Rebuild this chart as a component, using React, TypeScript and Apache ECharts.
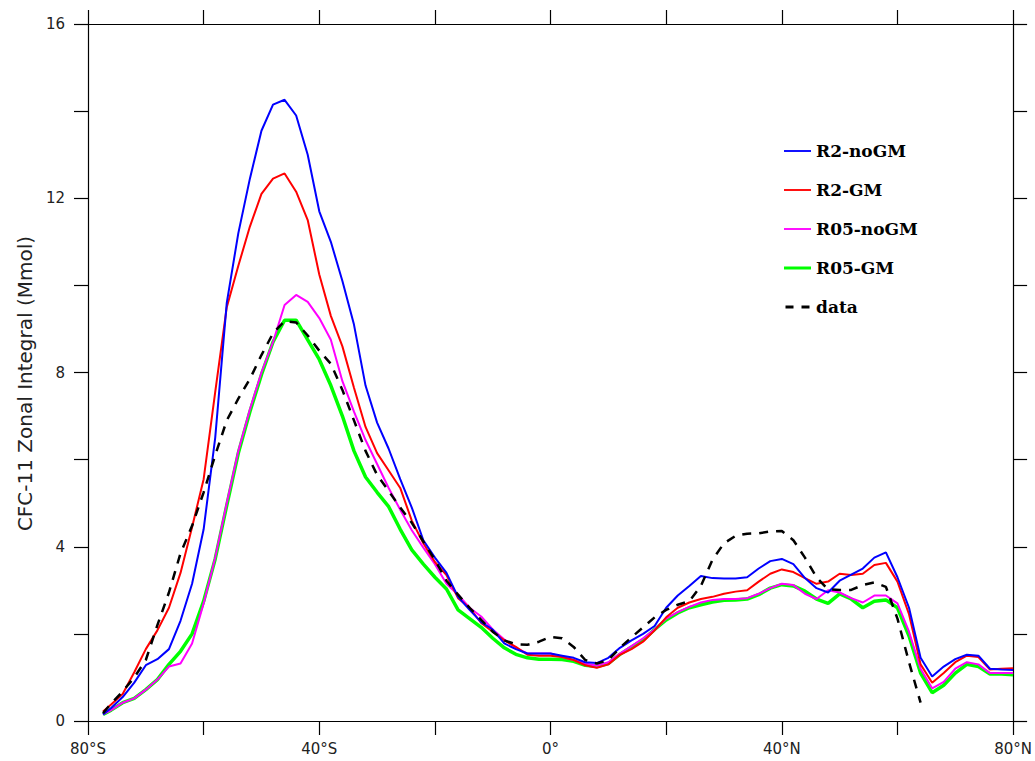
import React, { useEffect, useRef } from "react";
import * as echarts from "echarts";

// Latitudes (negative = south)
const lats = [-77.4, -76, -74, -72, -70, -68, -66, -64, -62, -60, -58, -56, -54, -52, -50, -48, -46, -44, -42, -40, -38, -36, -34, -32, -30, -28, -26, -24, -22, -20, -18, -16, -14, -12, -10, -8, -6, -4, -2, 0, 2, 4, 6, 8, 10, 12, 14, 16, 18, 20, 22, 24, 26, 28, 30, 32, 34, 36, 38, 40, 42, 44, 46, 48, 50, 52, 54, 56, 58, 60, 62, 64, 66, 68, 70, 72, 74, 76, 78, 80];

const r2NoGM = [0.15, 0.3, 0.55, 0.88, 1.28, 1.42, 1.65, 2.3, 3.15, 4.4, 6.5, 9.6, 11.2, 12.45, 13.55, 14.15, 14.26, 13.9, 13.0, 11.7, 11.0, 10.1, 9.1, 7.7, 6.85, 6.25, 5.55, 4.9, 4.15, 3.75, 3.4, 2.85, 2.55, 2.27, 2.1, 1.78, 1.65, 1.55, 1.55, 1.55, 1.5, 1.45, 1.35, 1.33, 1.45, 1.68, 1.85, 2.0, 2.18, 2.6, 2.88, 3.1, 3.33, 3.28, 3.27, 3.27, 3.3, 3.5, 3.67, 3.72, 3.6, 3.28, 3.05, 2.95, 3.22, 3.36, 3.5, 3.75, 3.87, 3.3, 2.6, 1.45, 1.02, 1.25, 1.42, 1.52, 1.5, 1.2, 1.18, 1.17];

const r2GM = [0.22, 0.38, 0.62, 1.12, 1.65, 2.08, 2.6, 3.4, 4.45, 5.55, 7.55, 9.5, 10.45, 11.35, 12.1, 12.45, 12.57, 12.15, 11.5, 10.25, 9.3, 8.6, 7.65, 6.75, 6.15, 5.75, 5.35, 4.6, 4.08, 3.65, 3.35, 2.82, 2.6, 2.25, 2.05, 1.85, 1.7, 1.52, 1.5, 1.5, 1.47, 1.4, 1.28, 1.22, 1.3, 1.52, 1.65, 1.82, 2.08, 2.38, 2.6, 2.72, 2.8, 2.85, 2.92, 2.97, 3.0, 3.2, 3.38, 3.48, 3.42, 3.28, 3.15, 3.2, 3.38, 3.35, 3.38, 3.58, 3.63, 3.2, 2.45, 1.3, 0.88, 1.1, 1.35, 1.5, 1.47, 1.18, 1.2, 1.21];

const r05NoGM = [0.15, 0.25, 0.42, 0.52, 0.72, 0.95, 1.25, 1.32, 1.78, 2.7, 3.75, 5.0, 6.2, 7.15, 8.0, 8.7, 9.55, 9.78, 9.62, 9.25, 8.75, 7.8, 7.1, 6.45, 5.9, 5.35, 4.85, 4.38, 3.98, 3.6, 3.15, 2.9, 2.6, 2.4, 2.1, 1.87, 1.68, 1.55, 1.55, 1.55, 1.47, 1.4, 1.32, 1.27, 1.35, 1.55, 1.72, 1.9, 2.1, 2.35, 2.5, 2.62, 2.72, 2.78, 2.8, 2.8, 2.82, 2.92, 3.05, 3.15, 3.12, 2.92, 2.8, 3.0, 2.95, 2.82, 2.72, 2.88, 2.88, 2.7, 2.05, 1.2, 0.75, 0.9, 1.2, 1.35, 1.3, 1.1, 1.1, 1.1];

const r05GM = [0.15, 0.25, 0.42, 0.52, 0.72, 0.95, 1.3, 1.6, 2.0, 2.75, 3.72, 4.95, 6.15, 7.1, 7.95, 8.7, 9.2, 9.2, 8.75, 8.3, 7.7, 7.0, 6.2, 5.6, 5.25, 4.92, 4.4, 3.93, 3.6, 3.3, 3.03, 2.55, 2.35, 2.15, 1.9, 1.68, 1.53, 1.45, 1.42, 1.42, 1.41, 1.37, 1.28, 1.25, 1.32, 1.53, 1.7, 1.86, 2.1, 2.32, 2.48, 2.6, 2.67, 2.73, 2.77, 2.78, 2.8, 2.9, 3.05, 3.13, 3.1, 2.98, 2.8, 2.7, 2.92, 2.8, 2.6, 2.75, 2.78, 2.6, 1.95, 1.1, 0.65, 0.82, 1.1, 1.3, 1.25, 1.08, 1.08, 1.06];

const obsData = [0.18, 0.4, 0.68, 1.0, 1.4, 2.2, 2.95, 3.85, 4.48, 5.25, 6.1, 6.9, 7.4, 7.85, 8.4, 8.9, 9.18, 9.15, 8.85, 8.5, 8.2, 7.6, 6.9, 6.2, 5.65, 5.28, 4.9, 4.55, 4.12, 3.7, 3.22, 2.9, 2.6, 2.32, 2.05, 1.85, 1.76, 1.75, 1.82, 1.93, 1.9, 1.7, 1.4, 1.32, 1.4, 1.68, 1.92, 2.15, 2.38, 2.55, 2.67, 2.75, 3.1, 3.7, 4.08, 4.25, 4.3, 4.31, 4.35, 4.36, 4.15, 3.75, 3.3, 3.02, 3.01, 3.01, 3.12, 3.18, 3.08, 2.35, 1.35, 0.42, null, null, null, null, null, null, null, null];

const seriesNames = ["R2-noGM", "R2-GM", "R05-noGM", "R05-GM", "data"];
const seriesColors = ["#0000ff", "#ff0000", "#ff00ff", "#00ff00", "#000000"];

const yTitle = "CFC-11 Zonal Integral (Mmol)";

function latLabel(v: number): string {
  if (v % 40 !== 0) return "";
  if (v === 0) return "0°";
  return v < 0 ? `${-v}°S` : `${v}°N`;
}

export default function App() {
  const ref = useRef<HTMLDivElement>(null);
  useEffect(() => {
    if (!ref.current) return;
    const chart = echarts.init(ref.current, null, { renderer: "svg" });
    const all = [r2NoGM, r2GM, r05NoGM, r05GM, obsData];
    const widths = [2, 2, 2, 3.5, 2.5];
    const series = all.map((vals, i) => ({
      name: seriesNames[i],
      type: "line",
      data: lats.map((la, j) => [la, vals[j]]),
      showSymbol: false,
      symbol: "none",
      connectNulls: false,
      z: i === 4 ? 10 : 5 - i,
      lineStyle: {
        color: seriesColors[i],
        width: widths[i],
        type: i === 4 ? [9, 8] : "solid",
      },
      itemStyle: { color: seriesColors[i] },
    }));
    const legendData = seriesNames.map((name, i) => ({
      name,
      icon:
        i === 4
          ? "path://M0,0h8v3h-8z M16,0h8v3h-8z"
          : i === 3
          ? "rect"
          : "path://M0,0.6h26v1.8h-26z",
    }));
    const axisCommon = {
      axisLine: { show: true, onZero: false, lineStyle: { color: "#000", width: 1.2 } },
      axisTick: { show: true, length: 14, lineStyle: { color: "#000", width: 1.2 } },
      splitLine: { show: false },
    };
    chart.setOption({
      animation: false,
      backgroundColor: "#fff",
      grid: { left: 88, right: 18, top: 24, bottom: 40, containLabel: false },
      legend: {
        orient: "vertical",
        left: 779,
        top: 136,
        itemWidth: 27,
        itemHeight: 3,
        itemGap: 19,
        data: legendData,
        textStyle: {
          fontFamily: "DejaVu Serif",
          fontWeight: "bold",
          fontSize: 17,
          lineHeight: 20,
          color: "#000",
        },
      },
      xAxis: [
        {
          type: "value",
          min: -80,
          max: 80,
          interval: 20,
          position: "bottom",
          ...axisCommon,
          axisLabel: {
            formatter: latLabel,
            margin: 20,
            fontFamily: "DejaVu Sans",
            fontSize: 15,
            color: "#222",
            showMinLabel: true,
            showMaxLabel: true,
          },
        },
        {
          type: "value",
          min: -80,
          max: 80,
          interval: 20,
          position: "top",
          ...axisCommon,
          axisLabel: { show: false },
        },
      ],
      yAxis: [
        {
          type: "value",
          min: 0,
          max: 16,
          interval: 2,
          position: "left",
          ...axisCommon,
          axisLabel: {
            formatter: (v: number) => (v % 4 === 0 ? String(v) : ""),
            margin: 23,
            fontFamily: "DejaVu Sans",
            fontSize: 15,
            color: "#222",
          },
          name: yTitle,
          nameLocation: "middle",
          nameGap: 45,
          nameRotate: 90,
          nameTextStyle: {
            fontFamily: "DejaVu Sans",
            fontSize: 20,
            color: "#222",
            padding: [0, 22, 0, 0],
          },
        },
        {
          type: "value",
          min: 0,
          max: 16,
          interval: 2,
          position: "right",
          ...axisCommon,
          axisLabel: { show: false },
        },
      ],
      series,
    });
    return () => chart.dispose();
  }, []);
  return (
    <div
      ref={ref}
      style={{ position: "fixed", left: 0, top: 0, width: 1035, height: 761, background: "#fff" }}
    />
  );
}
